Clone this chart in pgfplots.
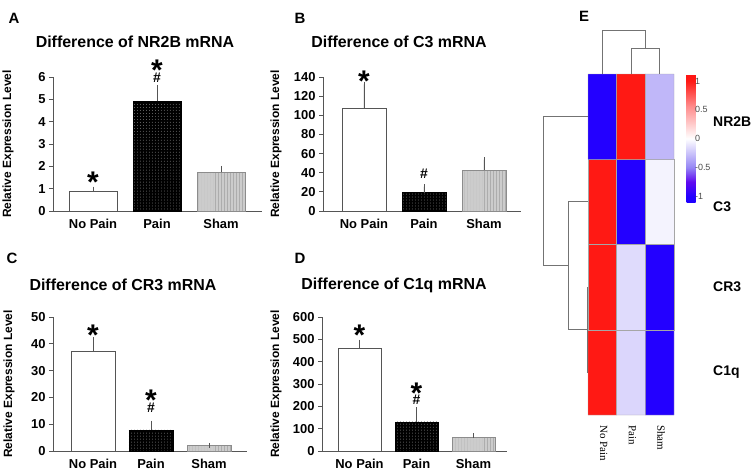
\documentclass[border=0pt]{standalone}
\usepackage{pgfplots}
\pgfplotsset{compat=1.18}
\usepackage{fontspec}
\setmainfont{Liberation Sans}
\newfontfamily\colfont{Liberation Serif}
\usetikzlibrary{patterns}

\newcommand\fs[1]{\fontsize{#1}{#1}\selectfont}
\newcommand\sstar{\raisebox{-0.44em}[0.3em][0pt]{*}}
\definecolor{axgray}{RGB}{85,85,85}

\tikzset{
  sigstar/.style={font=\bfseries\fs{30}, anchor=base, yshift=-4bp, inner sep=0pt},
  sighash/.style={font=\bfseries\fs{14}, inner sep=0pt},
  rowlab/.style={anchor=west, font=\bfseries\fs{14}, inner sep=0pt},
  collab/.style={anchor=west, rotate=-90, font=\colfont\fs{11}, inner sep=0pt},
}

\pgfplotsset{
  barpanel/.style={
    scale only axis, height=134bp,
    axis x line*=bottom, axis y line*=left,
    axis line style={axgray, line width=0.9bp},
    ymin=0, clip=false,
    xtick={0,1,2}, xticklabels={No Pain,Pain,Sham},
    x tick style={draw=none},
    y tick style={axgray, line width=0.8bp},
    tick align=outside, major tick length=4bp,
    /pgf/number format/assume math mode=true,
    ticklabel style={font=\bfseries\fs{13}},
    xticklabel style={yshift=-1bp},
    ylabel={Relative Expression Level},
    ylabel style={font=\bfseries\fs{12}, anchor=center},
  },
  errs/.style={error bars/.cd, y dir=plus, y explicit,
    error bar style={axgray, line width=0.8bp},
    error mark options={axgray, mark size=2.5bp, line width=0.8bp}},
  nopain/.style={ybar, fill=white, draw=axgray, line width=0.8bp, errs},
  pain/.style={ybar, fill=black, draw=black, line width=0.8bp,
    postaction={pattern=dots, pattern color=black!55}, errs},
  sham/.style={ybar, fill=black!20, draw=black!45, line width=0.8bp,
    postaction={pattern=vertical lines, pattern color=black!32}, errs},
  dendro/.style={color=black!55, line width=0.9bp, mark=none},
}

\begin{document}
\begin{tikzpicture}
\path[use as bounding box] (0,0) rectangle (753bp,472bp);

% A
\begin{axis}[barpanel, at={(53bp,261bp)}, anchor=south west,
  width=209bp, xmin=-0.625, xmax=2.64, ymax=6, bar width=0.75,
  ytick={0,1,...,6},
  ylabel style={at={(axis description cs:-0.215,0.5)}}]
\addplot[nopain] coordinates {(0,0.89) +- (0,0.09)};
\addplot[pain] coordinates {(1,4.91) +- (0,0.64)};
\addplot[sham] coordinates {(2,1.73) +- (0,0.18)};
\node[sigstar] at (axis cs:0,1.58) {\sstar};
\node[sigstar] at (axis cs:1,6.6) {\sstar};
\node[sighash] at (axis cs:1,5.97) {\#};
\end{axis}

% B
\begin{axis}[barpanel, at={(323bp,261bp)}, anchor=south west,
  width=198bp, xmin=-0.683, xmax=2.617, ymax=140, bar width=0.733,
  ytick={0,20,...,140},
  ylabel style={at={(axis description cs:-0.237,0.5)}}]
\addplot[nopain] coordinates {(0,107) +- (0,25.4)};
\addplot[pain] coordinates {(1,19.1) +- (0,6.3)};
\addplot[sham] coordinates {(2,42.4) +- (0,11.4)};
\node[sigstar] at (axis cs:0,142.8) {\sstar};
\node[sighash] at (axis cs:1,39) {\#};
\end{axis}

% C
\begin{axis}[barpanel, at={(53bp,21bp)}, anchor=south west,
  width=194bp, xmin=-0.69, xmax=2.655, ymax=50, bar width=0.76,
  ytick={0,10,...,50},
  ylabel style={at={(axis description cs:-0.227,0.5)}}]
\addplot[nopain] coordinates {(0,37.2) +- (0,4.3)};
\addplot[pain] coordinates {(1,7.86) +- (0,2.5)};
\addplot[sham] coordinates {(2,2.0) +- (0,0.1)};
\node[sigstar] at (axis cs:0,45.9) {\sstar};
\node[sigstar] at (axis cs:1,21.6) {\sstar};
\node[sighash] at (axis cs:1,16) {\#};
\end{axis}

% D
\begin{axis}[barpanel, at={(322bp,21bp)}, anchor=south west,
  width=185bp, xmin=-0.658, xmax=2.588, ymax=600, bar width=0.754,
  ytick={0,100,...,600},
  ylabel style={at={(axis description cs:-0.249,0.5)}}]
\addplot[nopain] coordinates {(0,458) +- (0,30)};
\addplot[pain] coordinates {(1,130) +- (0,54)};
\addplot[sham] coordinates {(2,60) +- (0,9)};
\node[sigstar] at (axis cs:0,551) {\sstar};
\node[sigstar] at (axis cs:1,289) {\sstar};
\node[sighash] at (axis cs:1,229) {\#};
\end{axis}

% E heatmap
\begin{axis}[scale only axis, at={(588bp,57bp)}, anchor=south west,
  width=86bp, height=341bp, clip=false,
  xmin=-0.5, xmax=2.5, ymin=-0.5, ymax=3.5,
  axis line style={draw=none}, xtick=\empty, ytick=\empty,
  point meta min=-1.1, point meta max=1.12,
  colormap={hm}{rgb255(0cm)=(30,0,255); rgb255(1cm)=(35,0,255);
    rgb255(3.5cm)=(95,10,240); rgb255(6cm)=(150,135,245);
    rgb255(11cm)=(255,255,255); rgb255(16.6cm)=(255,140,140);
    rgb255(21cm)=(255,25,20); rgb255(22.2cm)=(255,20,20)},
  colorbar,
  colorbar style={
    at={(parent axis.north east)}, anchor=north west, xshift=4bp,
    scale only axis, width=9bp, height=128bp,
    ytick={-1,-0.5,0,0.5,1},
    major tick length=0pt,
    axis line style={draw=none},
    /pgf/number format/assume math mode=true,
    yticklabel style={font=\fs{9}, text=black!70, xshift=-4bp},
  }]
\addplot[matrix plot*, mesh/cols=3, point meta=explicit, draw=black!35]
  table[meta=c] {
x y c
0 0 1
1 0 -0.17
2 0 -1
0 1 1
1 1 -0.15
2 1 -1
0 2 1
1 2 -1
2 2 -0.05
0 3 -1
1 3 1
2 3 -0.3
};
% column dendrogram
\addplot[dendro] coordinates {(0,3.5) (0,4.016) (1.5,4.016) (1.5,3.805)};
\addplot[dendro] coordinates {(1,3.5) (1,3.805) (2,3.805) (2,3.5)};
% row dendrogram
\addplot[dendro] coordinates {(-0.5,1) (-0.535,1) (-0.535,0) (-0.5,0)};
\addplot[dendro] coordinates {(-0.535,0.5) (-1.198,0.5) (-1.198,2) (-0.5,2)};
\addplot[dendro] coordinates {(-1.198,1.25) (-2.07,1.25) (-2.07,3) (-0.5,3)};
\node[rowlab] at (axis cs:3.86,2.94) {NR2B};
\node[rowlab] at (axis cs:3.86,1.94) {C3};
\node[rowlab] at (axis cs:3.86,1.0) {CR3};
\node[rowlab] at (axis cs:3.86,0.0) {C1q};
\node[collab] at (axis cs:0.05,-0.617) {No Pain};
\node[collab] at (axis cs:1.05,-0.617) {Pain};
\node[collab] at (axis cs:2.05,-0.617) {Sham};
\end{axis}

% titles and panel letters
\begin{scope}[every node/.style={font=\bfseries\fs{16}}]
\node at (135bp,430bp) {Difference of NR2B mRNA};
\node at (399bp,430bp) {Difference of C3 mRNA};
\node at (123bp,187bp) {Difference of CR3 mRNA};
\node at (394bp,187bp) {Difference of C1q mRNA};
\end{scope}
\begin{scope}[every node/.style={font=\bfseries\fs{15}}]
\node at (14bp,454bp) {A};
\node at (300bp,454bp) {B};
\node at (12bp,214bp) {C};
\node at (300bp,214bp) {D};
\node at (584bp,456bp) {E};
\end{scope}
\end{tikzpicture}
\end{document}
